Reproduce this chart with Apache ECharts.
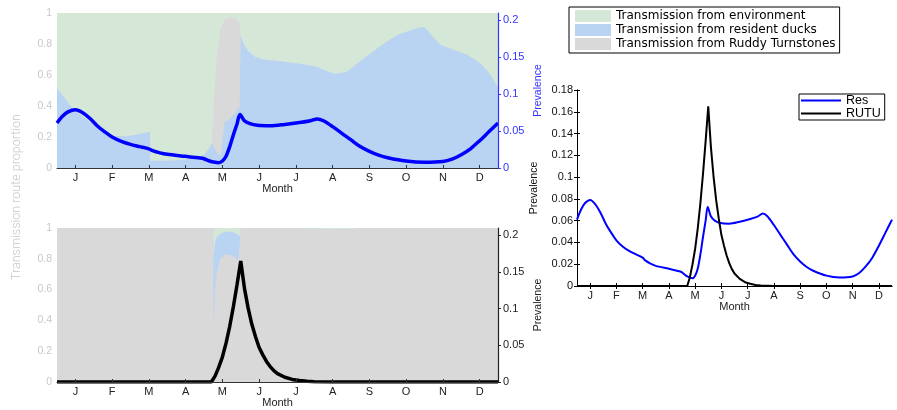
<!DOCTYPE html>
<html>
<head>
<meta charset="utf-8">
<script src="https://cdn.jsdelivr.net/npm/echarts@6/dist/echarts.min.js"></script>
<style>
  html, body { margin: 0; padding: 0; background: #fff; }
  #chart { width: 897px; height: 410px; }
</style>
</head>
<body>
<div id="chart"></div>
<script>
// Month labels, placed at the middle of each month (x runs 0..12 months)
const months = ['J', 'F', 'M', 'A', 'M', 'J', 'J', 'A', 'S', 'O', 'N', 'D'];
const monthTicks = [0.5, 1.5, 2.5, 3.5, 4.5, 5.5, 6.5, 7.5, 8.5, 9.5, 10.5, 11.5];

// Transmission route proportions acting on resident ducks
const topT    = [0, 0.4, 0.7, 1.1, 1.5, 1.9, 2.2, 2.53, 2.54, 3.0, 3.5, 3.8, 4.0, 4.12, 4.21, 4.26, 4.30, 4.34, 4.38, 4.45, 4.56, 4.67, 4.85, 4.97, 4.99, 5.0, 5.1, 5.21, 5.37, 5.6, 6.08, 6.6, 7.07, 7.26, 7.58, 7.89, 8.17, 8.53, 8.9, 9.26, 9.71, 9.98, 10.07, 10.26, 10.44, 10.8, 11.17, 11.53, 11.8, 12.0];
const topRes  = [0.514, 0.39, 0.33, 0.26, 0.205, 0.205, 0.218, 0.234, 0.046, 0.047, 0.055, 0.068, 0.085, 0.12, 0.16, 0.135, 0.12, 0.10, 0.09, 0.075, 0.30, 0.31, 0.355, 0.393, 0.398, 0.85, 0.79, 0.753, 0.72, 0.70, 0.688, 0.672, 0.654, 0.632, 0.606, 0.621, 0.675, 0.739, 0.804, 0.858, 0.895, 0.912, 0.890, 0.837, 0.794, 0.761, 0.729, 0.675, 0.600, 0.52];
const topRutu = [0, 0, 0, 0, 0, 0, 0, 0, 0, 0, 0, 0, 0, 0, 0, 0.255, 0.43, 0.60, 0.705, 0.825, 0.66, 0.662, 0.613, 0.542, 0.532, 0, 0, 0, 0, 0, 0, 0, 0, 0, 0, 0, 0, 0, 0, 0, 0, 0, 0, 0, 0, 0, 0, 0, 0, 0];
const topEnv  = [0.486, 0.61, 0.67, 0.74, 0.795, 0.795, 0.782, 0.766, 0.954, 0.953, 0.945, 0.932, 0.915, 0.88, 0.84, 0.61, 0.45, 0.30, 0.205, 0.10, 0.04, 0.028, 0.032, 0.065, 0.07, 0.15, 0.21, 0.247, 0.28, 0.30, 0.312, 0.328, 0.346, 0.368, 0.394, 0.379, 0.325, 0.261, 0.196, 0.142, 0.105, 0.088, 0.11, 0.163, 0.206, 0.239, 0.271, 0.325, 0.40, 0.48];

// Transmission route proportions acting on Ruddy Turnstones
const botT    = [0, 4.25, 4.26, 4.30, 4.35, 4.44, 4.58, 4.76, 4.94, 4.99, 5.0, 5.95, 6.0, 8.1, 8.2, 12.0];
const botRutu = [1, 1, 0.325, 0.606, 0.714, 0.80, 0.829, 0.822, 0.79, 0.785, 1, 1, 0.993, 0.99, 1, 1];
const botRes  = [0, 0, 0.475, 0.299, 0.226, 0.162, 0.147, 0.154, 0.165, 0.155, 0, 0, 0, 0, 0, 0];
const botEnv  = [0, 0, 0.20, 0.095, 0.06, 0.038, 0.024, 0.024, 0.045, 0.06, 0, 0, 0.007, 0.01, 0, 0];

// Prevalence in resident ducks
const resT    = [0, 0.15, 0.3, 0.5, 0.7, 0.9, 1.1, 1.3, 1.5, 1.75, 2.0, 2.25, 2.5, 2.6, 2.8, 3.0, 3.5, 3.9, 4.0, 4.15, 4.3, 4.4, 4.5, 4.6, 4.7, 4.8, 4.9, 4.98, 5.1, 5.25, 5.45, 5.8, 6.2, 6.6, 6.9, 7.08, 7.25, 7.5, 7.75, 8.0, 8.25, 8.5, 8.75, 9.0, 9.5, 10.0, 10.5, 10.75, 11.0, 11.25, 11.5, 11.75, 12.0];
const resPrev = [0.061, 0.070, 0.076, 0.079, 0.075, 0.067, 0.057, 0.049, 0.042, 0.036, 0.032, 0.029, 0.026, 0.0235, 0.0205, 0.0185, 0.0158, 0.0135, 0.0125, 0.0095, 0.0077, 0.0072, 0.0095, 0.016, 0.029, 0.045, 0.060, 0.0725, 0.064, 0.060, 0.0578, 0.0572, 0.059, 0.0615, 0.064, 0.0665, 0.064, 0.056, 0.047, 0.038, 0.029, 0.0225, 0.0175, 0.014, 0.0095, 0.0078, 0.0088, 0.012, 0.018, 0.026, 0.037, 0.049, 0.061];

// Prevalence in Ruddy Turnstones
const rutuT    = [0, 4.2, 4.3, 4.4, 4.5, 4.6, 4.7, 4.8, 4.9, 5.0, 5.1, 5.2, 5.3, 5.4, 5.5, 5.6, 5.7, 5.8, 5.9, 6.0, 6.2, 6.4, 6.6, 6.8, 7.0, 7.5, 12.0];
const rutuPrev = [0, 0, 0.008, 0.02, 0.034, 0.053, 0.076, 0.103, 0.133, 0.165, 0.128, 0.101, 0.079, 0.062, 0.047, 0.037, 0.028, 0.021, 0.0155, 0.0115, 0.0065, 0.0035, 0.002, 0.001, 0.0005, 0, 0];

const prevTicks = [0, 0.05, 0.1, 0.15, 0.2];

const C_ENV = '#d5e8d8', C_RES = '#b9d3f3', C_RUTU = '#d9d9d9';
const NAME_ENV = 'Transmission from environment';
const NAME_RES = 'Transmission from resident ducks';
const NAME_RUTU = 'Transmission from Ruddy Turnstones';
const FONT = 'Liberation Sans, Arial, sans-serif';

const zip = (xs, ys) => xs.map((x, i) => [x, ys[i]]);
const monthFmt = v => months[Math.round(v - 0.5)] || '';

// Running totals of the stacked route layers, bottom layer first.
function cumulative(layers) {
  const out = [];
  let acc = layers[0].map(() => 0);
  layers.forEach(layer => {
    acc = acc.map((a, i) => a + layer[i]);
    out.push(acc.slice());
  });
  return out;
}

function monthAxis(gridIndex, extra) {
  return Object.assign({
    gridIndex, type: 'value', min: 0, max: 12,
    axisLine: { show: true, lineStyle: { color: '#333', width: 1 } },
    axisTick: { show: true, inside: true, length: 3, customValues: monthTicks, lineStyle: { color: '#333' } },
    axisLabel: { customValues: monthTicks, formatter: monthFmt, margin: 4, fontSize: 11, fontFamily: FONT, color: '#222' },
    splitLine: { show: false },
    name: 'Month', nameLocation: 'middle', nameGap: 13,
    nameTextStyle: { fontSize: 11, fontFamily: FONT, color: '#222' },
    z: 5
  }, extra || {});
}

function propAxis(gridIndex) {
  return {
    gridIndex, type: 'value', min: 0, max: 1, interval: 0.2, position: 'left',
    axisLine: { show: false }, axisTick: { show: false }, splitLine: { show: false },
    axisLabel: { margin: 5, fontSize: 10.5, fontFamily: FONT, color: '#c8c8c8' }
  };
}

function prevAxis(gridIndex, color) {
  return {
    gridIndex, type: 'value', min: 0, max: 0.21, position: 'right',
    axisLine: { show: true, lineStyle: { color, width: 1.2 } },
    axisTick: { show: true, inside: false, length: 3, customValues: prevTicks, lineStyle: { color } },
    axisLabel: { customValues: prevTicks, margin: 5, fontSize: 11, fontFamily: FONT, color },
    splitLine: { show: false },
    name: 'Prevalence', nameLocation: 'middle', nameGap: 35,
    nameTextStyle: { fontSize: 10.5, fontFamily: FONT, color },
    z: 5
  };
}

// One filled layer, from the axis up to its running total.
function layer(name, xs, tops, color, xi, yi, z) {
  return {
    name, type: 'line', xAxisIndex: xi, yAxisIndex: yi,
    data: zip(xs, tops), symbol: 'none', showSymbol: false,
    lineStyle: { width: 0 }, itemStyle: { color },
    areaStyle: { color, opacity: 1, origin: 'start' }, z, silent: true
  };
}

const topTops = cumulative([topRes, topRutu, topEnv]);   // resident, turnstone, environment
const botTops = cumulative([botRutu, botRes, botEnv]);   // turnstone, resident, environment

const chart = echarts.init(document.getElementById('chart'), null, { renderer: 'canvas' });

chart.setOption({
  animation: false,
  backgroundColor: '#fff',
  grid: [
    { left: 57, top: 13, width: 441, height: 155 },
    { left: 57, top: 228, width: 441, height: 154 },
    { left: 577, top: 90, width: 315, height: 196 }
  ],
  xAxis: [
    monthAxis(0),
    monthAxis(1),
    monthAxis(2, {
      axisLine: { show: true, lineStyle: { color: '#000', width: 1 } },
      axisTick: { show: true, inside: true, length: 3, customValues: monthTicks, lineStyle: { color: '#000' } },
      nameGap: 12
    }),
    {
      gridIndex: 2, type: 'value', min: 0, max: 12, position: 'top',
      axisLine: { show: true, lineStyle: { color: '#000', width: 1 } },
      axisTick: { show: true, inside: true, length: 3, customValues: monthTicks, lineStyle: { color: '#000' } },
      axisLabel: { show: false }, splitLine: { show: false }
    }
  ],
  yAxis: [
    propAxis(0),
    prevAxis(0, '#3333ff'),
    propAxis(1),
    prevAxis(1, '#222'),
    {
      gridIndex: 2, type: 'value', min: 0, max: 0.18, interval: 0.02, position: 'left',
      axisLine: { show: true, lineStyle: { color: '#000', width: 1 } },
      axisTick: { show: true, inside: true, length: 3, lineStyle: { color: '#000' } },
      axisLabel: { margin: 4, fontSize: 11, fontFamily: FONT, color: '#111' },
      splitLine: { show: false },
      name: 'Prevalence', nameLocation: 'middle', nameGap: 37,
      nameTextStyle: { fontSize: 10.5, fontFamily: FONT, color: '#111' }
    },
    {
      gridIndex: 2, type: 'value', min: 0, max: 0.18, interval: 0.02, position: 'right',
      axisLine: { show: true, lineStyle: { color: '#000', width: 1 } },
      axisTick: { show: true, inside: true, length: 3, lineStyle: { color: '#000' } },
      axisLabel: { show: false }, splitLine: { show: false }
    }
  ],
  legend: [
    {
      data: [NAME_ENV, NAME_RES, NAME_RUTU],
      orient: 'vertical', left: 569, top: 7,
      itemWidth: 36, itemHeight: 12, itemGap: 2,
      padding: [3, 4, 3, 6],
      borderColor: '#000', borderWidth: 1, backgroundColor: '#fff',
      icon: 'rect', selectedMode: false,
      textStyle: { fontFamily: 'DejaVu Sans', fontSize: 12, color: '#000' }
    },
    {
      data: ['Res', 'RUTU'],
      orient: 'vertical', left: 799, top: 94,
      itemWidth: 40, itemHeight: 2, itemGap: 0,
      padding: [0, 4, 0, 2],
      borderColor: '#000', borderWidth: 1, backgroundColor: '#fff',
      icon: 'rect', selectedMode: false,
      textStyle: { fontFamily: FONT, fontSize: 12.5, color: '#000', lineHeight: 12.5 }
    }
  ],
  graphic: [
    {
      type: 'text', x: 17, y: 197, rotation: Math.PI / 2, silent: true,
      style: {
        text: 'Transmission route proportion',
        font: '300 12.5px Roboto, sans-serif',
        fill: '#c8c8c8', align: 'center', verticalAlign: 'middle'
      }
    }
  ],
  series: [
    // right panel: prevalence of both populations
    {
      name: 'Res', type: 'line', xAxisIndex: 2, yAxisIndex: 4,
      data: zip(resT, resPrev), symbol: 'none', smooth: 0.3,
      lineStyle: { color: '#0000ff', width: 2 }, itemStyle: { color: '#0000ff' }, z: 3
    },
    {
      name: 'RUTU', type: 'line', xAxisIndex: 2, yAxisIndex: 4,
      data: zip(rutuT, rutuPrev), symbol: 'none',
      lineStyle: { color: '#000', width: 2 }, itemStyle: { color: '#000' }, z: 3
    },
    // upper left: routes into resident ducks (top layer drawn first)
    layer(NAME_ENV, topT, topTops[2], C_ENV, 0, 0, 1),
    layer(NAME_RUTU, topT, topTops[1], C_RUTU, 0, 0, 1),
    layer(NAME_RES, topT, topTops[0], C_RES, 0, 0, 1),
    {
      name: 'Resident prevalence', type: 'line', xAxisIndex: 0, yAxisIndex: 1,
      data: zip(resT, resPrev), symbol: 'none', smooth: 0.3,
      lineStyle: { color: '#0000ff', width: 3.5 }, z: 3
    },
    // lower left: routes into Ruddy Turnstones
    layer(NAME_ENV, botT, botTops[2], C_ENV, 1, 2, 1),
    layer(NAME_RES, botT, botTops[1], C_RES, 1, 2, 1),
    layer(NAME_RUTU, botT, botTops[0], C_RUTU, 1, 2, 1),
    {
      name: 'Turnstone prevalence', type: 'line', xAxisIndex: 1, yAxisIndex: 3,
      data: zip(rutuT, rutuPrev), symbol: 'none',
      lineStyle: { color: '#000', width: 3.5 }, z: 3
    }
  ]
});
</script>
</body>
</html>
